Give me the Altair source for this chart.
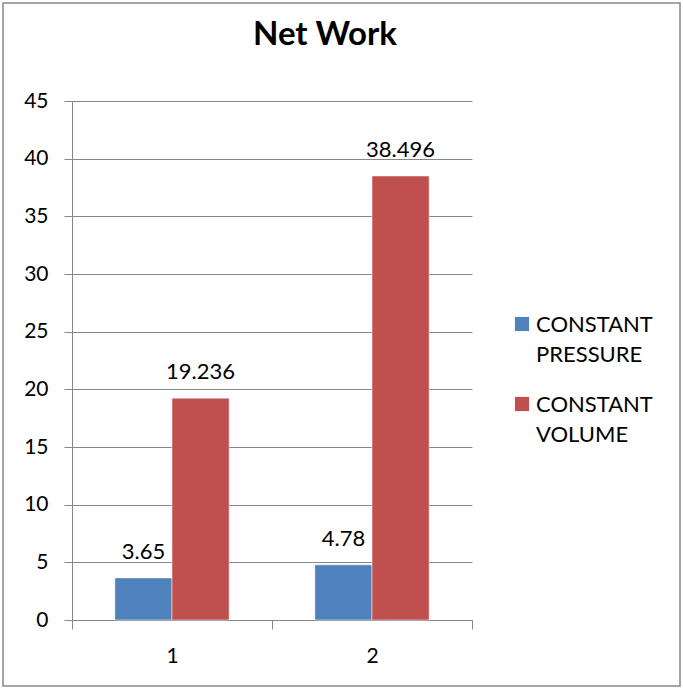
import altair as alt
import pandas as pd

categories = ["1", "1", "2", "2"]
series = ["CONSTANT PRESSURE", "CONSTANT VOLUME", "CONSTANT PRESSURE", "CONSTANT VOLUME"]
values = [3.65, 19.236, 4.78, 38.496]
labels = ["3.65", "19.236", "4.78", "38.496"]
series_order = ["CONSTANT PRESSURE", "CONSTANT VOLUME"]
legend_lines = [["CONSTANT", "PRESSURE"], ["CONSTANT", "VOLUME"]]
colors = ["#4F81BD", "#C0504D"]
y_ticks = [0, 5, 10, 15, 20, 25, 30, 35, 40, 45]
title_text = "Net Work"

df = pd.DataFrame({"cat": categories, "series": series, "value": values, "label": labels})
leg_df = pd.DataFrame({"series": series_order, "lines": legend_lines})

FONT = "Lato"
GRID = "#868686"
color_scale = alt.Scale(domain=series_order, range=colors)

x_enc = alt.X("cat:N", title=None,
              scale=alt.Scale(paddingInner=0, paddingOuter=0),
              axis=alt.Axis(labelAngle=0, labelFontSize=21, labelFont=FONT, labelColor="black",
                            domainColor=GRID, tickColor=GRID, tickSize=9, tickBand="extent",
                            labelPadding=16, grid=False))
xoff = alt.XOffset("series:N", sort=series_order,
                   scale=alt.Scale(paddingInner=0, paddingOuter=0.75))
y_enc = alt.Y("value:Q", title=None,
              scale=alt.Scale(domain=[0, 45], nice=False),
              axis=alt.Axis(values=y_ticks, labelFontSize=21, labelFont=FONT, labelColor="black",
                            domainColor=GRID, tickColor=GRID, tickSize=8, labelPadding=16,
                            gridColor=GRID, gridWidth=1))

base = alt.Chart(df)

bars = base.mark_bar(stroke="white", strokeWidth=0.5).encode(
    x=x_enc, xOffset=xoff, y=y_enc,
    color=alt.Color("series:N", scale=color_scale, legend=None)
)

text = base.mark_text(fontSize=22, font=FONT, color="black", baseline="alphabetic", dy=-19).encode(
    x=alt.X("cat:N"), xOffset=alt.XOffset("series:N", sort=series_order), y="value:Q",
    text="label:N"
)

leg_y = alt.Y("series:N", sort=series_order, axis=None,
              scale=alt.Scale(domain=series_order, range=[223, 303], padding=0))
leg_sym = alt.Chart(leg_df).mark_square(size=200, opacity=1).encode(
    x=alt.value(450), y=leg_y,
    color=alt.Color("series:N", scale=color_scale, legend=None)
)
leg_txt = alt.Chart(leg_df).mark_text(fontSize=22, font=FONT, color="black", align="left",
                                      baseline="alphabetic", lineHeight=30, dy=8).encode(
    x=alt.value(464), y=leg_y, text="lines"
)

title = alt.Chart(alt.Data(values=[{"t": title_text}])).mark_text(
    fontSize=33, font=FONT, fontWeight="bold", color="black", align="center", baseline="alphabetic"
).encode(x=alt.value(253), y=alt.value(-56), text="t:N")

border = alt.Chart(alt.Data(values=[{}])).mark_rect(fill=None, stroke="#888888", strokeWidth=1.5).encode(
    x=alt.value(-69), x2=alt.value(608), y=alt.value(-98), y2=alt.value(585)
)

main = alt.layer(bars, text)
legend = alt.layer(leg_sym, leg_txt)

chart = alt.layer(main, legend, title, border).resolve_scale(y="independent").properties(
    width=400, height=519,
    autosize=alt.AutoSizeParams(type="none"),
    padding={"left": 72, "top": 101, "right": 211, "bottom": 69}
).configure_view(stroke=None).configure_axisX(grid=False)

chart.save("out.html", embed_options={"renderer": "svg", "actions": False})
